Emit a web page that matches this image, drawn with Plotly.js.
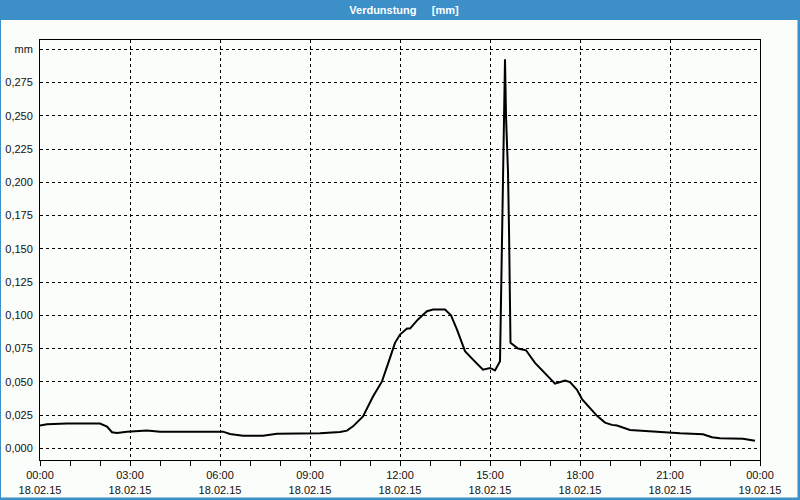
<!DOCTYPE html>
<html>
<head>
<meta charset="utf-8">
<script src="https://cdn.plot.ly/plotly-3.0.1.min.js"></script>
<style>
  html, body { margin: 0; padding: 0; background: #fbfdfb; }
  #chart { width: 800px; height: 500px; }
</style>
</head>
<body>
<div id="chart"></div>
<script>
// ---- data ----
const times = [
  "2015-02-18 00:00", "2015-02-18 00:14", "2015-02-18 00:54", "2015-02-18 02:00",
  "2015-02-18 02:14", "2015-02-18 02:24", "2015-02-18 02:34", "2015-02-18 02:54",
  "2015-02-18 03:34", "2015-02-18 04:00", "2015-02-18 06:06", "2015-02-18 06:20",
  "2015-02-18 06:46", "2015-02-18 07:26", "2015-02-18 07:54", "2015-02-18 08:34",
  "2015-02-18 09:00", "2015-02-18 09:20", "2015-02-18 10:00", "2015-02-18 10:14",
  "2015-02-18 10:26", "2015-02-18 10:46", "2015-02-18 11:06", "2015-02-18 11:24",
  "2015-02-18 11:40", "2015-02-18 11:50", "2015-02-18 12:00", "2015-02-18 12:14",
  "2015-02-18 12:20", "2015-02-18 12:36", "2015-02-18 12:54", "2015-02-18 13:06",
  "2015-02-18 13:30", "2015-02-18 13:42", "2015-02-18 13:54", "2015-02-18 14:10",
  "2015-02-18 14:26", "2015-02-18 14:46", "2015-02-18 15:00", "2015-02-18 15:10",
  "2015-02-18 15:20", "2015-02-18 15:22", "2015-02-18 15:24", "2015-02-18 15:26",
  "2015-02-18 15:28", "2015-02-18 15:30", "2015-02-18 15:32", "2015-02-18 15:36",
  "2015-02-18 15:38", "2015-02-18 15:40", "2015-02-18 15:41", "2015-02-18 15:56",
  "2015-02-18 16:12", "2015-02-18 16:30", "2015-02-18 17:10", "2015-02-18 17:30",
  "2015-02-18 17:40", "2015-02-18 17:54", "2015-02-18 18:04", "2015-02-18 18:34",
  "2015-02-18 18:50", "2015-02-18 19:04", "2015-02-18 19:14", "2015-02-18 19:40",
  "2015-02-18 20:14", "2015-02-18 20:54", "2015-02-18 21:20", "2015-02-18 22:06",
  "2015-02-18 22:24", "2015-02-18 22:40", "2015-02-18 23:26", "2015-02-18 23:50"
];
const evaporation = [
  0.0171, 0.0180, 0.0186, 0.0186,
  0.0163, 0.0121, 0.0115, 0.0125,
  0.0133, 0.0125, 0.0125, 0.0108,
  0.0095, 0.0095, 0.0110, 0.0113,
  0.0110, 0.0113, 0.0123, 0.0133,
  0.0165, 0.0240, 0.0390, 0.0503,
  0.0680, 0.0793, 0.0855, 0.0900,
  0.0900, 0.0969, 0.1031, 0.1044,
  0.1044, 0.1000, 0.0893, 0.0730,
  0.0667, 0.0591, 0.0604, 0.0586,
  0.0654, 0.1100, 0.1570, 0.2010,
  0.2480, 0.2926, 0.2500, 0.2076,
  0.1650, 0.1220, 0.0793, 0.0750,
  0.0737, 0.0642, 0.0486, 0.0510,
  0.0498, 0.0440, 0.0370, 0.0244,
  0.0193, 0.0176, 0.0171, 0.0138,
  0.0128, 0.0121, 0.0113, 0.0106,
  0.0083, 0.0075, 0.0072, 0.0057
];
const xTickVals = [
  "2015-02-18 00:00", "2015-02-18 03:00", "2015-02-18 06:00", "2015-02-18 09:00",
  "2015-02-18 12:00", "2015-02-18 15:00", "2015-02-18 18:00", "2015-02-18 21:00",
  "2015-02-19 00:00"
];
const xTickText = [
  "00:00<br>18.02.15", "03:00<br>18.02.15", "06:00<br>18.02.15", "09:00<br>18.02.15",
  "12:00<br>18.02.15", "15:00<br>18.02.15", "18:00<br>18.02.15", "21:00<br>18.02.15",
  "00:00<br>19.02.15"
];
const yTickVals = [0, 0.025, 0.05, 0.075, 0.1, 0.125, 0.15, 0.175, 0.2, 0.225, 0.25, 0.275, 0.3];
const yTickText = ["0,000", "0,025", "0,050", "0,075", "0,100", "0,125", "0,150", "0,175",
                   "0,200", "0,225", "0,250", "0,275", "mm"];
const chartTitle = "Verdunstung\u00a0\u00a0\u00a0\u00a0\u00a0[mm]";

// ---- layout helpers (pixel -> paper) ----
const W = 800, H = 500, ML = 40, MR = 40, MT = 40, MB = 40;
const PW = W - ML - MR, PH = H - MT - MB;
const px = p => (p - ML) / PW;
const py = q => (H - MB - q) / PH;
const BLUE = "#3c8fc7";

const trace = {
  x: times, y: evaporation, type: "scatter", mode: "lines",
  line: { color: "#000000", width: 2 }, hoverinfo: "x+y"
};

const layout = {
  width: W, height: H,
  margin: { l: ML, r: MR, t: MT, b: MB, pad: 0 },
  paper_bgcolor: "#fbfdfb", plot_bgcolor: "#fbfdfb",
  font: { family: "Liberation Sans, Arial, sans-serif", size: 11, color: "#111111" },
  showlegend: false,
  title: {
    text: "<b>" + chartTitle + "</b>",
    font: { family: "Liberation Sans, Arial, sans-serif", size: 11, color: "#ffffff" },
    x: 0.505, xref: "container", xanchor: "center",
    y: 1 - 10 / H, yref: "container", yanchor: "middle"
  },
  xaxis: {
    type: "date",
    range: ["2015-02-18 00:00", "2015-02-19 00:00"],
    tickmode: "array", tickvals: xTickVals, ticktext: xTickText,
    ticks: "outside", ticklen: 5, tickcolor: "#000", tickwidth: 1,
    showgrid: true, gridcolor: "#000", gridwidth: 1, griddash: "3px,3px",
    showline: true, linecolor: "#000", linewidth: 1, mirror: true,
    zeroline: false, fixedrange: true,
    minor: { tickmode: "linear", tick0: "2015-02-18 00:00", dtick: 3600000,
             ticks: "outside", ticklen: 5, tickcolor: "#000", showgrid: false }
  },
  yaxis: {
    range: [-0.0088, 0.307],
    tickmode: "array", tickvals: yTickVals, ticktext: yTickText,
    ticks: "", ticklabelstandoff: 4,
    showgrid: true, gridcolor: "#000", gridwidth: 1, griddash: "3px,3px",
    showline: true, linecolor: "#000", linewidth: 1, mirror: true,
    zeroline: false, fixedrange: true
  },
  shapes: [
    // title bar
    { type: "rect", xref: "paper", yref: "paper", x0: px(0), x1: px(800), y0: py(20), y1: py(0),
      fillcolor: BLUE, line: { width: 0 }, layer: "below" },
    // frame
    { type: "rect", xref: "paper", yref: "paper", x0: px(0), x1: px(1), y0: py(500), y1: py(0),
      fillcolor: BLUE, line: { width: 0 }, layer: "below" },
    { type: "rect", xref: "paper", yref: "paper", x0: px(797.5), x1: px(800), y0: py(500), y1: py(0),
      fillcolor: BLUE, line: { width: 0 }, layer: "below" },
    { type: "rect", xref: "paper", yref: "paper", x0: px(0), x1: px(800), y0: py(500), y1: py(497.5),
      fillcolor: BLUE, line: { width: 0 }, layer: "below" }
  ]
};

Plotly.newPlot("chart", [trace], layout, { displayModeBar: false, staticPlot: true });
</script>
</body>
</html>
